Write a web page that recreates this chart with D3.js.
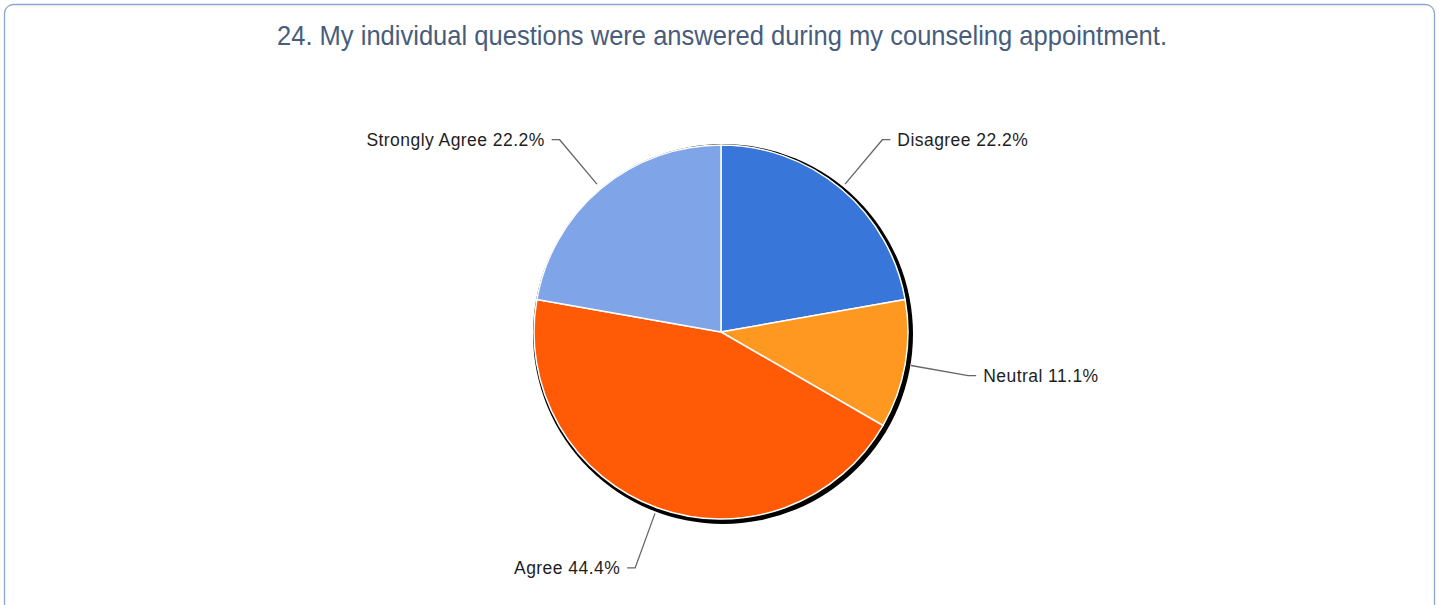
<!DOCTYPE html>
<html>
<head>
<meta charset="utf-8">
<script src="https://cdn.jsdelivr.net/npm/d3@7/dist/d3.min.js"></script>
<style>
  html, body { margin: 0; padding: 0; background: #ffffff; }
  svg { display: block; }
</style>
</head>
<body>
<svg id="chart" width="1439" height="605"></svg>
<script>
// Survey responses, question 24
const categories = ["Disagree", "Neutral", "Agree", "Strongly Agree"];
const percents = [22.2, 11.1, 44.4, 22.2];
const sliceColors = ["#3877d9", "#ff9820", "#ff5a05", "#7fa5e8"];
const titleText = "24. My individual questions were answered during my counseling appointment.";

// Leader-line angle overrides (degrees clockwise from 12 o'clock)
const leaderAngleOverride = { "Agree": 200 };

const W = 1439, H = 605;
const cx = 721, cy = 332, R = 187;

const svg = d3.select("#chart");

// Panel frame
svg.append("rect")
  .attr("x", 4.5).attr("y", 4.5)
  .attr("width", W - 9).attr("height", H + 4)
  .attr("rx", 9).attr("ry", 9)
  .attr("fill", "#ffffff")
  .attr("stroke", "#8aa7cf")
  .attr("stroke-width", 1.3);

// Title
svg.append("text")
  .attr("x", 722).attr("y", 45)
  .attr("text-anchor", "middle")
  .attr("font-family", "'Liberation Sans', Arial, sans-serif")
  .attr("font-size", 27.5)
  .attr("fill", "#475d7b")
  .attr("textLength", 890)
  .attr("lengthAdjust", "spacingAndGlyphs")
  .text(titleText);

const data = categories.map((c, i) => ({ name: c, value: percents[i], color: sliceColors[i] }));

const pie = d3.pie().value(d => d.value).sort(null);
const arcs = pie(data);
const arc = d3.arc().innerRadius(0).outerRadius(R);

const g = svg.append("g").attr("transform", `translate(${cx},${cy})`);

// Drop shadow / outline behind the pie
g.append("circle")
  .attr("cx", 2).attr("cy", 2)
  .attr("r", R + 3)
  .attr("fill", "#000000");

g.selectAll("path.slice")
  .data(arcs)
  .join("path")
  .attr("class", "slice")
  .attr("d", arc)
  .attr("fill", d => d.data.color)
  .attr("stroke", "#ffffff")
  .attr("stroke-width", 1.5)
  .attr("stroke-linejoin", "round");

// Leader lines and labels
const rStart = R + 6, rElbow = 251, hLen = 8, gap = 7;
const polar = (deg, r) => {
  const a = deg * Math.PI / 180;
  return [r * Math.sin(a), -r * Math.cos(a)];
};

arcs.forEach(d => {
  const mid = (d.startAngle + d.endAngle) / 2 * 180 / Math.PI;
  const ang = leaderAngleOverride[d.data.name] !== undefined ? leaderAngleOverride[d.data.name] : mid;
  const p0 = polar(ang, rStart);
  const p1 = polar(ang, rElbow);
  const right = Math.sin(ang * Math.PI / 180) >= 0;
  const p2 = [p1[0] + (right ? hLen : -hLen), p1[1]];

  g.append("path")
    .attr("d", d3.line()([p0, p1, p2]))
    .attr("fill", "none")
    .attr("stroke", "#666666")
    .attr("stroke-width", 1.3);

  g.append("text")
    .attr("x", p2[0] + (right ? gap : -gap))
    .attr("y", p2[1])
    .attr("dy", "0.36em")
    .attr("text-anchor", right ? "start" : "end")
    .attr("font-family", "'Liberation Sans', Arial, sans-serif")
    .attr("font-size", 17.5)
    .attr("letter-spacing", 0.45)
    .attr("fill", "#1e1e1e")
    .text(`${d.data.name} ${d3.format(".1f")(d.data.value)}%`);
});
</script>
</body>
</html>
